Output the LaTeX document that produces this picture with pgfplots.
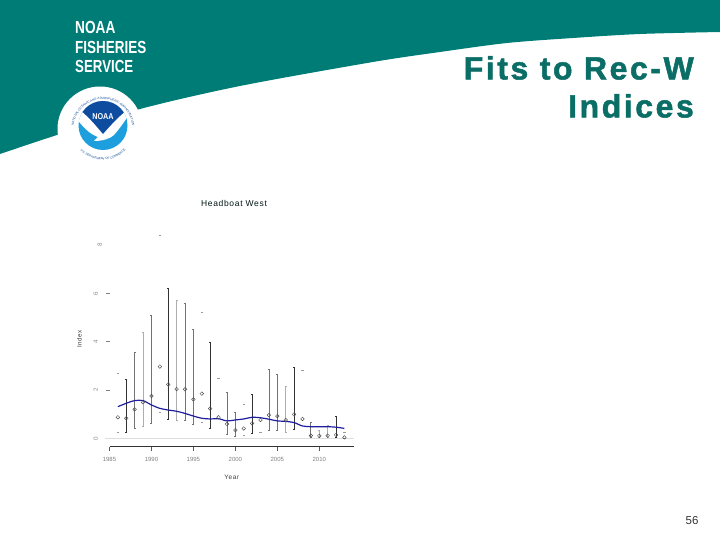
\documentclass[border=0pt]{standalone}
\usepackage{fontspec}
\setmainfont{Liberation Sans}
\newfontfamily\wide[LetterSpace=8]{Liberation Sans}
\newfontfamily\titlefont[LetterSpace=8,BoldFeatures={FakeBold=1.6}]{Liberation Sans}
\usepackage{graphicx}
\usepackage{pgfplots}
\usepackage{pgfplotstable}
\pgfplotsset{compat=1.18}
\usetikzlibrary{decorations.text}

\definecolor{noaateal}{HTML}{007C76}
\definecolor{titleteal}{HTML}{0A6E66}
\definecolor{logoblue}{HTML}{1C9FDC}
\definecolor{logonavy}{HTML}{0D4C9E}
\definecolor{fitblue}{HTML}{1E1E9E}

% yr = year, v = observed index, lo/hi = interval ends; grouped by how dark the bar prints
\pgfplotstableread{
yr v lo hi
1987 0.83 0.27 2.44
1992 2.23 0.79 6.21
1997 1.23 0.41 3.97
2002 0.62 0.21 1.83
2007 0.99 0.37 2.94
2012 0.14 0.03 0.92
}\darkbars
\pgfplotstableread{
yr v lo hi
1988 1.20 0.41 3.56
1990 1.75 0.62 5.10
1994 2.03 0.73 5.59
1995 1.61 0.58 4.51
1999 0.59 0.17 1.89
2000 0.34 0.07 1.08
2004 0.96 0.34 2.86
2005 0.92 0.34 2.66
2009 0.11 0.05 0.66
}\midbars
\pgfplotstableread{
yr v lo hi
1989 1.49 0.50 4.41
1993 2.04 0.73 5.70
2006 0.76 0.25 2.17
2010 0.10 0.04 0.34
2011 0.11 0.04 0.52
}\lightbars
\pgfplotstableread{
yr v lo hi
1986 0.87 0.25 2.69
1991 2.97 1.06 8.42
1996 1.85 0.66 5.22
1998 0.87 nan 2.48
2001 0.41 0.14 1.41
2003 0.76 0.25 nan
2008 0.80 nan 2.83
2013 0.04 0.02 0.23
}\faintbars
\pgfplotstableread{
yr fit
1986 1.31
1987 1.45
1988 1.56
1989 1.56
1990 1.38
1991 1.24
1992 1.17
1993 1.12
1994 1.03
1995 0.92
1996 0.83
1997 0.80
1998 0.81
1999 0.72
2000 0.76
2001 0.80
2002 0.87
2003 0.85
2004 0.79
2005 0.72
2006 0.70
2007 0.65
2008 0.51
2009 0.48
2010 0.48
2011 0.48
2012 0.46
2013 0.41
}\fitline

\pgfplotsset{
  cibar/.style={draw=none, mark=none, forget plot,
    error bars/.cd, y dir=both, y explicit,
    error bar style={draw=#1, line width=0.8pt},
    error mark options={draw=#1, mark size=1pt, line width=0.5pt, rotate=90}},
  obs/.style={only marks, mark=o, mark size=1.8pt, forget plot,
    mark options={draw=black!70, fill=white, line width=0.45pt}},
  capmark/.style={only marks, mark=-, mark size=1.1pt, forget plot,
    mark options={draw=black!40, line width=0.5pt}},
}

\begin{document}
\begin{tikzpicture}
\useasboundingbox (0pt,0pt) rectangle (720pt,540pt);
\begin{scope}[x=1pt,y=-1pt,shift={(0pt,540pt)}]
  % slide header
  \fill[noaateal] (0,0) -- plot[smooth] coordinates
    {(0,154) (57,135) (140,109) (240,86) (373,62) (440,52) (507,43) (573,38) (640,34) (720,32)}
    -- (720,0) -- cycle;
  \node[anchor=west,text=white,inner sep=0pt] at (75,27.5)
    {\scalebox{0.78}[1]{\fontsize{17.5}{18}\selectfont\bfseries NOAA}};
  \node[anchor=west,text=white,inner sep=0pt] at (75,47)
    {\scalebox{0.77}[1]{\fontsize{17.5}{18}\selectfont\bfseries FISHERIES}};
  \node[anchor=west,text=white,inner sep=0pt] at (75,66.5)
    {\scalebox{0.76}[1]{\fontsize{17.5}{18}\selectfont\bfseries SERVICE}};
  % logo
  \fill[white] (100,129) circle (42.5);
  \begin{scope}
    \clip (103,125.5) circle (24.5);
    \fill[logoblue] (70,95) rectangle (135,155);
    \fill[white] (76,118) .. controls (85,130) and (92,135) .. (98,137)
      -- (94,141) .. controls (102,141) and (110,139) .. (114,135)
      .. controls (120,128) and (126,120) .. (130,112) -- (130,100) -- (76,100) -- cycle;
    \fill[logonavy] (80,110) .. controls (90,118) and (97,127) .. (103,134)
      .. controls (110,126) and (117,118) .. (127,110) -- (127,95) -- (80,95) -- cycle;
  \end{scope}
  \node[text=white,inner sep=0pt] at (103,116.5)
    {\scalebox{0.85}[1]{\fontsize{8.5}{9}\selectfont\bfseries NOAA}};
  \path[decorate,decoration={text along path,text align=center,
      text={|\fontsize{3}{4}\selectfont\color{logonavy}|NATIONAL OCEANIC AND ATMOSPHERIC ADMINISTRATION}}]
    (103,129) ++(165:29.5) arc[start angle=165,end angle=375,radius=29.5];
  \path[decorate,decoration={text along path,text align=center,
      text={|\fontsize{3}{4}\selectfont\color{logonavy}|U.S. DEPARTMENT OF COMMERCE}}]
    (103,129) ++(150:31) arc[start angle=150,end angle=30,radius=31];
  % slide title
  \node[anchor=east,text=titleteal,inner sep=0pt] at (694,68)
    {\fontsize{32}{34}\selectfont\titlefont\bfseries Fits to Rec-W};
  \node[anchor=east,text=titleteal,inner sep=0pt] at (694,106)
    {\fontsize{32}{34}\selectfont\titlefont\bfseries Indices};
  \node[text=black!80,inner sep=0pt] at (692,521) {\fontsize{11.5}{12}\selectfont 56};
  \node[text=black!85!teal,inner sep=0pt] at (234,203.5)
    {\fontsize{8.5}{10}\selectfont\wide Headboat West};
\end{scope}

\begin{axis}[
  at={(109.5pt,93.3pt)}, anchor=south west,
  scale only axis, width=244.5pt, height=221.7pt,
  xmin=1985, xmax=2014.14, ymin=-0.348, ymax=8.832,
  clip=false,
  axis x line*=bottom, axis y line*=left,
  y axis line style={draw=none},
  x axis line style={draw=black!80, line width=0.7pt, -},
  xtick={1985,1990,1995,2000,2005,2010},
  ytick={0,2,4,6},
  extra y ticks={8},
  extra y tick style={major tick length=0pt},
  tick align=outside, major tick length=4pt,
  x tick style={draw=black!65, line width=0.6pt},
  y tick style={draw=black!50, line width=0.6pt},
  xticklabel style={/pgf/number format/1000 sep={}, /pgf/number format/assume math mode=true,
    font=\fontsize{6}{7}\selectfont, text=black!50, yshift=-3pt},
  yticklabel style={rotate=90, anchor=south, /pgf/number format/assume math mode=true,
    font=\fontsize{6.2}{7}\selectfont, text=black!45, yshift=4pt},
  xlabel={Year}, ylabel={Index},
  xlabel style={font=\fontsize{6.5}{7}\selectfont\wide, text=black!75, yshift=-7pt},
  ylabel style={font=\fontsize{6.2}{7}\selectfont\wide, text=black!80, yshift=1pt, xshift=-3pt},
]
  \addplot[black!13, line width=0.8pt, forget plot] coordinates {(1984.5,0) (2014.14,0)};

  \addplot[cibar=black!80] table[x=yr, y=v, y error plus expr=\thisrow{hi}-\thisrow{v}, y error minus expr=\thisrow{v}-\thisrow{lo}] {\darkbars};
  \addplot[cibar=black!55] table[x=yr, y=v, y error plus expr=\thisrow{hi}-\thisrow{v}, y error minus expr=\thisrow{v}-\thisrow{lo}] {\midbars};
  \addplot[cibar=black!32] table[x=yr, y=v, y error plus expr=\thisrow{hi}-\thisrow{v}, y error minus expr=\thisrow{v}-\thisrow{lo}] {\lightbars};
  \addplot[capmark] table[x=yr, y=hi] {\faintbars};
  \addplot[capmark] table[x=yr, y=lo] {\faintbars};

  \addplot[fitblue, line width=1.2pt, smooth, forget plot] table[x=yr, y=fit] {\fitline};

  \addplot[obs] table[x=yr, y=v] {\darkbars};
  \addplot[obs] table[x=yr, y=v] {\midbars};
  \addplot[obs] table[x=yr, y=v] {\lightbars};
  \addplot[obs] table[x=yr, y=v] {\faintbars};
\end{axis}
\end{tikzpicture}
\end{document}
